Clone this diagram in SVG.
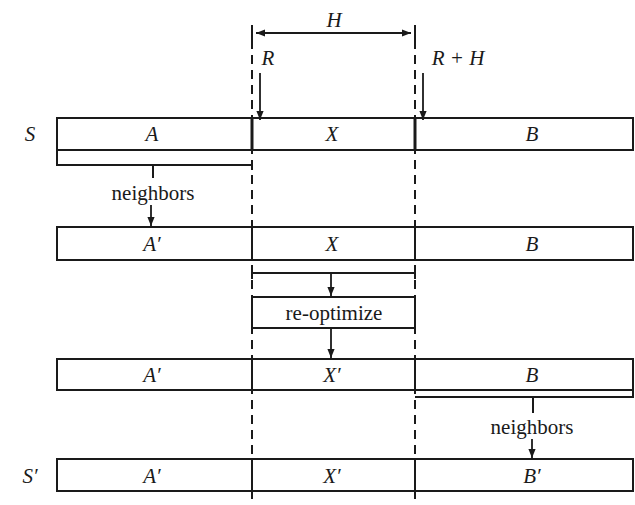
<svg xmlns="http://www.w3.org/2000/svg" width="635" height="505" viewBox="0 0 635 505">
<defs>
<marker id="ah" viewBox="0 0 10 10" refX="10" refY="5" markerWidth="5" markerHeight="5" orient="auto-start-reverse" markerUnits="strokeWidth">
<path d="M0,1 L10,5 L0,9 z" fill="#1a1a1a"/>
</marker>
<style>
.bar{fill:#fff;stroke:#1a1a1a;stroke-width:2}
.div{stroke:#1a1a1a;stroke-width:2}
.divb{stroke:#1a1a1a;stroke-width:3}
.dash{stroke:#1a1a1a;stroke-width:2;stroke-dasharray:9,6;fill:none}
.ln{stroke:#1a1a1a;stroke-width:2;fill:none}
.arr{stroke:#1a1a1a;stroke-width:1.8;fill:none;marker-end:url(#ah)}
.m{font-family:"Liberation Serif","Times New Roman",serif;font-style:italic;font-size:21px;fill:#1a1a1a;text-anchor:middle}
.t{font-family:"Liberation Serif","Times New Roman",serif;font-size:21px;fill:#1a1a1a;text-anchor:middle}
</style>
</defs>

<g id="guides">
<line class="dash" x1="252" y1="25" x2="252" y2="505"/>
<line class="dash" x1="415" y1="25" x2="415" y2="505"/>
<line class="dash" x1="260" y1="120" x2="260" y2="150"/>
<line class="dash" x1="423" y1="120" x2="423" y2="150"/>
</g>

<g id="labels">
<text class="m" x="334" y="27">H</text>
<text class="m" x="268" y="65">R</text>
<text class="m" x="458" y="65">R + H</text>
<text class="m" x="30" y="141">S</text>
<text class="m" x="30" y="483">S′</text>
</g>

<g id="row1">
<rect class="bar" x="57" y="118" width="576" height="32"/>
<line class="divb" x1="252" y1="118" x2="252" y2="150"/>
<line class="divb" x1="415" y1="118" x2="415" y2="150"/>
<text class="m" x="152" y="141">A</text>
<text class="m" x="332" y="141">X</text>
<text class="m" x="532" y="141">B</text>
</g>

<g id="row2">
<rect class="bar" x="57" y="227" width="576" height="33"/>
<line class="div" x1="252" y1="227" x2="252" y2="260"/>
<line class="div" x1="415" y1="227" x2="415" y2="260"/>
<text class="m" x="152" y="251">A′</text>
<text class="m" x="332" y="251">X</text>
<text class="m" x="532" y="251">B</text>
</g>

<g id="reoptimize">
<rect class="bar" x="252" y="297" width="163" height="31"/>
<text class="t" x="334" y="320">re-optimize</text>
</g>

<g id="row3">
<rect class="bar" x="57" y="359" width="576" height="31"/>
<line class="div" x1="252" y1="359" x2="252" y2="390"/>
<line class="div" x1="415" y1="359" x2="415" y2="390"/>
<text class="m" x="152" y="382">A′</text>
<text class="m" x="332" y="382">X′</text>
<text class="m" x="532" y="382">B</text>
</g>

<g id="row4">
<rect class="bar" x="57" y="459" width="576" height="32"/>
<line class="div" x1="252" y1="459" x2="252" y2="491"/>
<line class="div" x1="415" y1="459" x2="415" y2="491"/>
<text class="m" x="152" y="483">A′</text>
<text class="m" x="332" y="483">X′</text>
<text class="m" x="532" y="483">B′</text>
</g>

<g id="connectors">
<line class="arr" x1="256" y1="33" x2="411" y2="33" style="marker-start:url(#ah)"/>
<line class="ln" x1="252" y1="25" x2="252" y2="40"/>
<line class="ln" x1="415" y1="25" x2="415" y2="40"/>
<line class="arr" x1="260" y1="73" x2="260" y2="120"/>
<line class="arr" x1="423" y1="73" x2="423" y2="120"/>
<polyline class="ln" points="57,150 57,165 252,165"/>
<line class="ln" x1="252" y1="160" x2="252" y2="170"/>
<line class="ln" x1="153" y1="165" x2="153" y2="178"/>
<text class="t" x="153" y="200">neighbors</text>
<line class="arr" x1="151" y1="205" x2="151" y2="226"/>
<line class="ln" x1="252" y1="273" x2="415" y2="273"/>
<line class="ln" x1="252" y1="267" x2="252" y2="279"/>
<line class="ln" x1="415" y1="267" x2="415" y2="279"/>
<line class="arr" x1="331" y1="273" x2="331" y2="296"/>
<line class="arr" x1="331" y1="328" x2="331" y2="358"/>
<polyline class="ln" points="633,390 633,397 415,397"/>
<line class="ln" x1="533" y1="397" x2="533" y2="413"/>
<text class="t" x="532" y="434">neighbors</text>
<line class="arr" x1="532" y1="439" x2="532" y2="458"/>
</g>
</svg>
